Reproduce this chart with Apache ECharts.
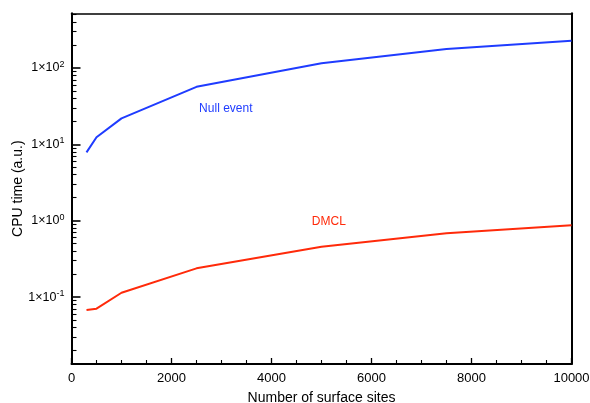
<!DOCTYPE html>
<html><head><meta charset="utf-8">
<script src="https://cdn.jsdelivr.net/npm/echarts@6/dist/echarts.min.js"></script>
<style>html,body{margin:0;padding:0;background:#fff}#c{width:590px;height:403px}</style>
</head><body><div id="c"></div>
<script>
var sites = [300, 500, 1000, 2500, 5000, 7500, 10000];
var nullEvent = [7.85, 12.4, 21.9, 56.7, 115, 177, 227];
var dmcl = [0.0678, 0.0705, 0.114, 0.238, 0.457, 0.684, 0.871];
var yMajor = [0.1, 1, 10, 100];
var yExp = ['-1', '0', '1', '2'];
var yMinor = [0.02,0.03,0.04,0.05,0.06,0.07,0.08,0.09,0.2,0.3,0.4,0.5,0.6,0.7,0.8,0.9,2,3,4,5,6,7,8,9,20,30,40,50,60,70,80,90,200,300,400,500];

var FONT = "'Liberation Sans', Arial, Helvetica, sans-serif";
var BLUE = '#1f3cff', RED = '#ff2a0a';
var chart = echarts.init(document.getElementById('c'));
function pairs(xs, ys){ return xs.map(function(x,i){return [x, ys[i]];}); }
function expOf(v){ var l = Math.round(Math.log10(v)); return yExp[yMajor.findIndex(function(m){return Math.round(Math.log10(m)) === l;})]; }
var frameY = {type: 'log', min: 0.0133, max: 520, axisLabel: {show: false}, axisTick: {show: false}, splitLine: {show: false}};
chart.setOption({
  animation: false,
  grid: {left: 71.5, right: 18.5, top: 13.3, bottom: 39, containLabel: false, outerBoundsMode: 'none'},
  xAxis: [{
    type: 'value', min: 0, max: 10000, interval: 2000,
    axisLine: {show: true, lineStyle: {color: '#000', width: 2}},
    axisTick: {show: true, inside: true, length: 6, lineStyle: {color: '#000', width: 1.3}},
    minorTick: {show: true, splitNumber: 4, length: 4, lineStyle: {color: '#000', width: 1.1}},
    splitLine: {show: false},
    axisLabel: {color: '#000', fontSize: 13, fontFamily: FONT, margin: 8, formatter: function(v){ return String(v); }},
    name: 'Number of surface sites', nameLocation: 'middle', nameGap: 27, nameMoveOverlap: false,
    nameTextStyle: {color: '#000', fontSize: 14, fontFamily: FONT}
  }, {
    type: 'value', min: 0, max: 10000, position: 'top',
    axisLine: {show: true, lineStyle: {color: '#000', width: 1.5}},
    axisTick: {show: false}, axisLabel: {show: false}, splitLine: {show: false}
  }],
  yAxis: [{
    type: 'log', min: 0.0133, max: 520,
    axisLine: {show: true, lineStyle: {color: '#000', width: 2}},
    axisTick: {show: true, inside: true, length: 9, customValues: yMajor, lineStyle: {color: '#000', width: 1.6}},
    splitLine: {show: false},
    axisLabel: {
      customValues: yMajor, margin: 7,
      formatter: function(v){ return '{b|1×10}{s|' + expOf(v) + '}'; },
      rich: {
        b: {color: '#000', fontSize: 12.5, fontFamily: FONT},
        s: {color: '#000', fontSize: 9, fontFamily: FONT, verticalAlign: 'top', padding: [0,0,7,0]}
      }
    },
    name: 'CPU time (a.u.)', nameLocation: 'middle', nameGap: 46, nameRotate: 90, nameMoveOverlap: false,
    nameTextStyle: {color: '#000', fontSize: 14, fontFamily: FONT}
  }, {
    type: 'log', min: 0.0133, max: 520, position: 'left',
    axisLine: {show: false},
    axisTick: {show: true, inside: true, length: 5, customValues: yMinor, lineStyle: {color: '#000', width: 1.1}},
    axisLabel: {show: false},
    splitLine: {show: false}
  }, Object.assign({position: 'right', axisLine: {show: true, lineStyle: {color: '#000', width: 2}}}, frameY)],
  series: [{
    type: 'line', data: pairs(sites, nullEvent), showSymbol: false,
    lineStyle: {color: BLUE, width: 2}, itemStyle: {color: BLUE},
    markPoint: {symbol: 'circle', symbolSize: 0, data: [{coord: [3086, 29], value: 'Null event'}],
      label: {show: true, formatter: 'Null event', color: BLUE, fontSize: 12, fontFamily: FONT}}
  }, {
    type: 'line', data: pairs(sites, dmcl), showSymbol: false,
    lineStyle: {color: RED, width: 2}, itemStyle: {color: RED},
    markPoint: {symbol: 'circle', symbolSize: 0, data: [{coord: [5146, 0.97], value: 'DMCL'}],
      label: {show: true, formatter: 'DMCL', color: RED, fontSize: 12, fontFamily: FONT}}
  }]
});
</script></body></html>
